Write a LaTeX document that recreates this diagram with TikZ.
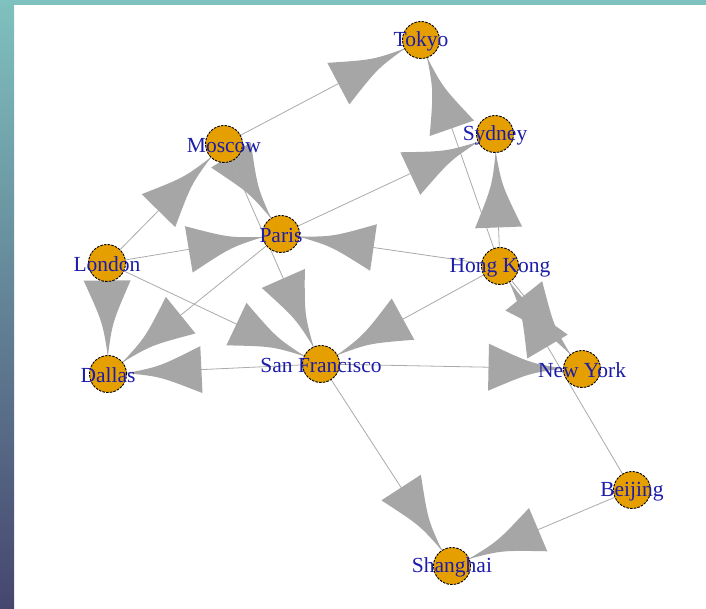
\documentclass[tikz,border=0pt]{standalone}
\usepackage{fontspec}
\setmainfont{Liberation Serif}
\usetikzlibrary{calc}
\definecolor{topteal}{HTML}{7FC1BF}
\definecolor{botpurple}{HTML}{46466E}
\definecolor{edgegray}{HTML}{AAAAAA}
\definecolor{headgray}{HTML}{A6A6A6}
\definecolor{cityorange}{HTML}{E69F00}
\definecolor{labelblue}{HTML}{1C1CAA}
\pgfdeclarelayer{bglayer}
\pgfdeclarelayer{edgelayer}
\pgfsetlayers{bglayer,edgelayer,main}
\tikzset{
  city/.style={circle, draw=black, fill=cityorange, line width=0.9pt,
    dash pattern=on 2.5pt off 1.2pt, minimum size=37pt, inner sep=0pt},
  citylabel/.style={text=labelblue, font=\fontsize{21.5}{21.5}\selectfont, inner sep=0pt, yshift=-1.5pt},
  edgeline/.style={draw=edgegray, line width=0.8pt},
  headfill/.style={fill=headgray}
}
\newcommand\edgearrow[2]{%
  \draw[edgeline] (#1) -- (#2);
  \coordinate (tipP) at ($(#2.center)!18.5pt!(#1.center)$);
  \coordinate (backP) at ($(#2.center)!93.5pt!(#1.center)$);
  \coordinate (midP) at ($(#2.center)!52pt!(#1.center)$);
  \coordinate (backA) at ($(backP)!23.5pt!90:(#2.center)$);
  \coordinate (backB) at ($(backP)!23.5pt!-90:(#2.center)$);
  \coordinate (midA) at ($(midP)!5pt!90:(#2.center)$);
  \coordinate (midB) at ($(midP)!5pt!-90:(#2.center)$);
  \fill[headfill] (tipP) .. controls (midA) .. (backA) -- (backB) .. controls (midB) .. (tipP) -- cycle;
}
\begin{document}
\begin{tikzpicture}[x=1pt,y=-1pt]
\useasboundingbox (0,0) rectangle (706,609);
\begin{pgfonlayer}{bglayer}
  \fill[white] (0,0) rectangle (706,609);
  \shade[top color=topteal, bottom color=botpurple] (0,0) rectangle (14,609);
  \fill[topteal] (0,0) rectangle (706,5);
\end{pgfonlayer}

\node[city, label={[citylabel]center:Tokyo}] (tokyo) at (421,40) {};
\node[city, label={[citylabel]center:Sydney}] (sydney) at (495,134) {};
\node[city, label={[citylabel]center:Moscow}] (moscow) at (224,144) {};
\node[city, label={[citylabel]center:Paris}] (paris) at (281,234) {};
\node[city, label={[citylabel]center:London}] (london) at (107,263) {};
\node[city, label={[citylabel]center:Hong Kong}] (hongkong) at (500,266) {};
\node[city, label={[citylabel]center:Dallas}] (dallas) at (108,374) {};
\node[city, label={[citylabel]center:San Francisco}] (sf) at (321,364) {};
\node[city, label={[citylabel]center:New York}] (newyork) at (582,369) {};
\node[city, label={[citylabel]center:Beijing}] (beijing) at (632,490) {};
\node[city, label={[citylabel]center:Shanghai}] (shanghai) at (452,566) {};

\begin{pgfonlayer}{edgelayer}
  \edgearrow{moscow}{tokyo}
  \edgearrow{hongkong}{tokyo}
  \edgearrow{hongkong}{sydney}
  \edgearrow{paris}{sydney}
  \edgearrow{london}{moscow}
  \edgearrow{moscow}{paris}
  \edgearrow{moscow}{sf}
  \edgearrow{london}{paris}
  \edgearrow{hongkong}{paris}
  \edgearrow{london}{dallas}
  \edgearrow{paris}{dallas}
  \edgearrow{london}{sf}
  \edgearrow{sf}{dallas}
  \edgearrow{hongkong}{sf}
  \edgearrow{sf}{newyork}
  \edgearrow{hongkong}{newyork}
  \edgearrow{beijing}{hongkong}
  \edgearrow{sf}{shanghai}
  \edgearrow{beijing}{shanghai}
\end{pgfonlayer}
\end{tikzpicture}
\end{document}
